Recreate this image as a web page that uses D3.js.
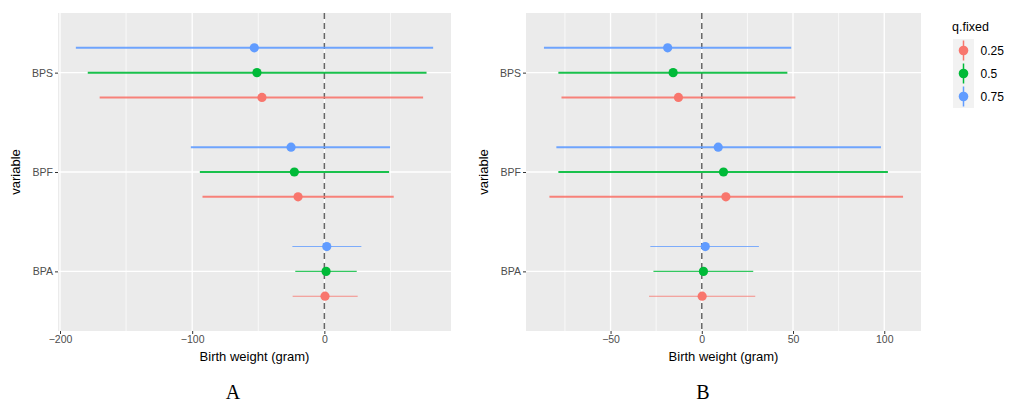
<!DOCTYPE html>
<html>
<head>
<meta charset="utf-8">
<script src="https://cdn.jsdelivr.net/npm/d3@7"></script>
<style>
  body { margin: 0; background: #fff; }
  svg { font-family: "Liberation Sans", Arial, sans-serif; }
</style>
</head>
<body>
<div id="chart"></div>
<script>
// categories
const variables = ["BPS", "BPF", "BPA"];
const quantiles = ["0.25", "0.5", "0.75"];

// panel A: rows follow variables, columns follow quantiles
const estA  = [[-47.2, -51.0, -53.0], [-19.9, -22.7, -25.2], [0.5, 1.3, 1.8]];
const lowA  = [[-170, -179, -188], [-92.2, -94.2, -101], [-24.0, -22.0, -24.2]];
const highA = [[74.7, 77.3, 82.3], [52.5, 49.0, 49.7], [25.2, 24.5, 28.0]];

// panel B
const estB  = [[-12.8, -15.7, -18.7], [13.2, 11.9, 9.0], [0.2, 0.9, 1.9]];
const lowB  = [[-76.9, -78.6, -86.5], [-83.5, -78.6, -79.7], [-28.9, -26.5, -28.2]];
const highB = [[51.3, 46.9, 49.0], [110.3, 102.0, 98.2], [29.3, 28.2, 31.3]];

const panelLabels = ["A", "B"];

const colors = d3.scaleOrdinal().domain(quantiles).range(["#F8766D", "#00BA38", "#619CFF"]);
const lineWidth = { BPS: 2, BPF: 2, BPA: 1.1 };

const W = 1016, H = 403;
const svg = d3.select("#chart").append("svg")
    .attr("width", W)
    .attr("height", H);

const panelTop = 13, panelBottom = 331;

function toRows(est, low, high) {
    let rows = [];
    variables.forEach((v, i) => {
        quantiles.forEach((q, j) => {
            rows.push({ variable: v, q: q, qi: j, est: est[i][j], low: low[i][j], high: high[i][j] });
        });
    });
    return rows;
}

function drawPanel(opts) {
    let rows = toRows(opts.est, opts.low, opts.high);

    // ggplot style 5% expansion of the data range
    let lo = d3.min(rows, d => d.low), hi = d3.max(rows, d => d.high);
    let pad = (hi - lo) * 0.05;
    let x = d3.scaleLinear().domain([lo - pad, hi + pad]).range([opts.left, opts.right]);

    let y = d3.scalePoint().domain(variables).range([panelTop, panelBottom]).padding(0.6);
    let dodge = d3.scaleLinear().domain([0, 2]).range([0.25 * y.step(), -0.25 * y.step()]);

    let g = svg.append("g");

    // panel background
    g.append("rect")
        .attr("x", opts.left).attr("y", panelTop)
        .attr("width", opts.right - opts.left).attr("height", panelBottom - panelTop)
        .attr("fill", "#EBEBEB");

    // grid
    let major = x.ticks(opts.ticks);
    let step = major[1] - major[0];
    let minor = d3.range(major[0] - step * 3.5, x.domain()[1], step)
        .filter(v => v > x.domain()[0] && v < x.domain()[1]);

    g.selectAll(".minor").data(minor).enter().append("line")
        .attr("x1", d => x(d)).attr("x2", d => x(d))
        .attr("y1", panelTop).attr("y2", panelBottom)
        .attr("stroke", "#fff").attr("stroke-width", 0.7);

    g.selectAll(".major").data(major).enter().append("line")
        .attr("x1", d => x(d)).attr("x2", d => x(d))
        .attr("y1", panelTop).attr("y2", panelBottom)
        .attr("stroke", "#fff").attr("stroke-width", 1.3);

    g.selectAll(".hgrid").data(variables).enter().append("line")
        .attr("x1", opts.left).attr("x2", opts.right)
        .attr("y1", d => y(d)).attr("y2", d => y(d))
        .attr("stroke", "#fff").attr("stroke-width", 1.3);

    // zero reference
    g.append("line")
        .attr("x1", x(0)).attr("x2", x(0))
        .attr("y1", panelTop).attr("y2", panelBottom)
        .attr("stroke", "#666").attr("stroke-width", 1.5)
        .attr("stroke-dasharray", "6,4");

    // ranges and points
    g.selectAll(".range").data(rows).enter().append("line")
        .attr("x1", d => x(d.low)).attr("x2", d => x(d.high))
        .attr("y1", d => y(d.variable) + dodge(d.qi))
        .attr("y2", d => y(d.variable) + dodge(d.qi))
        .attr("stroke", d => colors(d.q))
        .attr("stroke-opacity", d => d.variable === "BPA" ? 0.8 : 0.9)
        .attr("stroke-width", d => lineWidth[d.variable]);

    g.selectAll(".pt").data(rows).enter().append("circle")
        .attr("cx", d => x(d.est))
        .attr("cy", d => y(d.variable) + dodge(d.qi))
        .attr("r", 4.6)
        .attr("fill", d => colors(d.q));

    // x axis
    let xa = g.append("g").attr("transform", `translate(0, ${panelBottom})`)
        .call(d3.axisBottom(x).tickValues(major).tickSize(3).tickPadding(2)
            .tickFormat(d => d < 0 ? "\u2212" + Math.abs(d) : d));
    xa.select(".domain").remove();
    xa.selectAll("line").attr("stroke", "#333");
    xa.selectAll("text").attr("fill", "#4D4D4D").attr("font-size", 10.5)
        .attr("font-family", "Liberation Sans, Arial, sans-serif");

    // y axis
    let ya = g.append("g").attr("transform", `translate(${opts.left}, 0)`)
        .call(d3.axisLeft(y).tickSize(3).tickPadding(2));
    ya.select(".domain").remove();
    ya.selectAll("line").attr("stroke", "#333");
    ya.selectAll("text").attr("fill", "#4D4D4D").attr("font-size", 10.5)
        .attr("font-family", "Liberation Sans, Arial, sans-serif");

    // titles
    g.append("text")
        .attr("x", (opts.left + opts.right) / 2).attr("y", 361)
        .attr("text-anchor", "middle").attr("font-size", 13)
        .text("Birth weight (gram)");

    g.append("text")
        .attr("transform", `translate(${opts.left - 38}, ${(panelTop + panelBottom) / 2}) rotate(-90)`)
        .attr("text-anchor", "middle").attr("font-size", 13)
        .text("variable");

    g.append("text")
        .attr("x", opts.labelX).attr("y", 399)
        .attr("text-anchor", "middle")
        .style("font-family", "'Liberation Serif', 'Times New Roman', serif")
        .attr("font-size", 20)
        .text(opts.label);
}

drawPanel({ est: estA, low: lowA, high: highA, left: 58, right: 451, ticks: 3, label: panelLabels[0], labelX: 233 });
drawPanel({ est: estB, low: lowB, high: highB, left: 526, right: 921, ticks: 4, label: panelLabels[1], labelX: 703 });

// legend
let lg = svg.append("g").attr("transform", "translate(952, 0)");
lg.append("text").attr("x", 0).attr("y", 31).attr("font-size", 12.5).text("q.fixed");
lg.append("rect").attr("x", 1).attr("y", 39).attr("width", 21).attr("height", 69).attr("fill", "#F2F2F2");
let keys = lg.selectAll(".key").data(quantiles).enter().append("g")
    .attr("transform", (d, i) => `translate(11.5, ${50.5 + i * 23})`);
keys.append("line")
    .attr("y1", -10).attr("y2", 10)
    .attr("stroke", d => colors(d)).attr("stroke-width", 1.5);
keys.append("circle").attr("r", 4.8).attr("fill", d => colors(d));
keys.append("text").attr("x", 17).attr("y", 4.5).attr("font-size", 12).text(d => d);
</script>
</body>
</html>
